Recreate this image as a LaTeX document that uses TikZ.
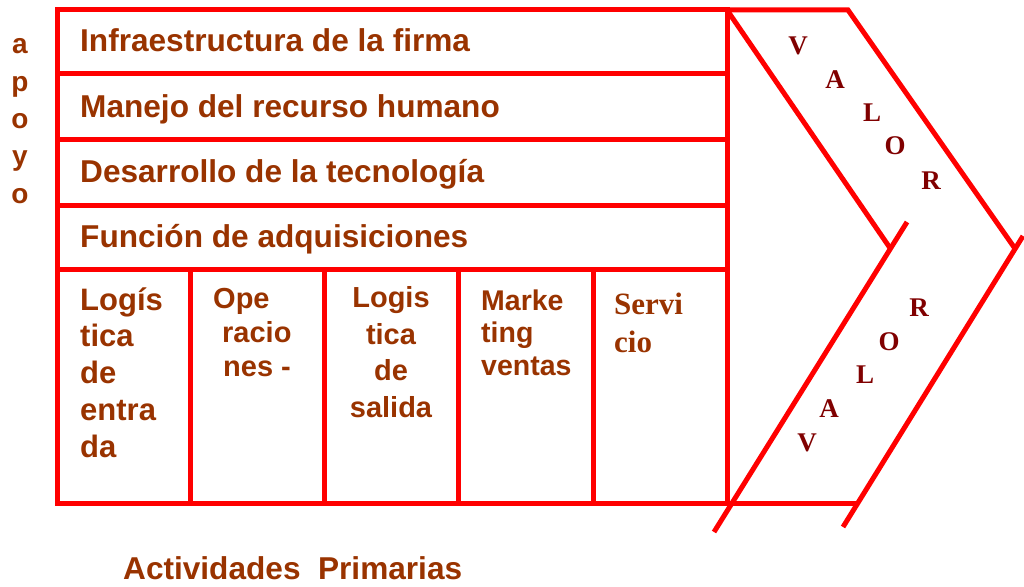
\documentclass[tikz,border=0pt]{standalone}
\usepackage{fontspec}
\setmainfont{Liberation Serif}
\setsansfont{Liberation Sans}
\definecolor{rd}{HTML}{FF0000}
\definecolor{br}{HTML}{993300}
\definecolor{mr}{HTML}{800000}
\begin{document}
\begin{tikzpicture}[x=1pt,y=-1pt,
  frame/.style={draw=rd, line width=5pt},
  suptext/.style={font=\sffamily\bfseries\fontsize{31.6}{38}\selectfont, text=br, anchor=base west, inner sep=0pt},
  primtext/.style={font=\sffamily\bfseries, text=br, inner sep=0pt, align=left, anchor=base west},
  valletter/.style={font=\rmfamily\bfseries\fontsize{27}{30}\selectfont, text=mr, inner sep=0pt}]
\useasboundingbox (0,0) rectangle (1024,586);
% main frame
\draw[frame] (57,10) rectangle (727,503);
\foreach \yy in {73,139,205,269} \draw[frame] (57,\yy) -- (727,\yy);
\foreach \xx in {190,324,458,593} \draw[frame] (\xx,269) -- (\xx,503);
% chevron
\draw[frame] (727,10) -- (848,10) -- (1016,250);
\draw[frame] (727,10) -- (890,248);
\draw[frame] (907,222) -- (714,532);
\draw[frame] (1023,236) -- (843,527);
\draw[frame] (727,503) -- (858,503);
% apoyo (base anchor = last line baseline)
\node[font=\sffamily\bfseries\fontsize{28}{37.3}\selectfont, text=br, align=center, anchor=base, inner sep=0pt] (apoyo) at (20,203) {a\\p\\o\\y\\o};
% support activities
\node[suptext] (infra) at (80,52) {Infraestructura de la firma};
\node[suptext] (rrhh) at (80,117) {Manejo del recurso humano};
\node[suptext] (tec) at (80,182) {Desarrollo de la tecnología};
\node[suptext] (adq) at (80,247) {Función de adquisiciones};
% primary activities
\node[primtext, font=\sffamily\bfseries\fontsize{31}{36.7}\selectfont] (logent) at (80,457) {Logís\\tica\\de\\entra\\da};
\node[primtext, font=\sffamily\bfseries\fontsize{29}{34}\selectfont] (oper) at (213,376) {Ope\\\hspace*{9pt}racio\\\hspace*{10pt}nes -};
\node[primtext, align=center, anchor=base, font=\sffamily\bfseries\fontsize{29}{36.5}\selectfont] (logsal) at (391,417) {Logis\\tica\\de\\salida};
\node[primtext, font=\sffamily\bfseries\fontsize{28.5}{32.5}\selectfont] (mkt) at (481,375) {Marke\\ting\\ventas};
\node[primtext, font=\rmfamily\bfseries\fontsize{31}{38}\selectfont] (serv) at (614,352) {Servi\\cio};
\node[suptext] (prim) at (123,579) {Actividades~~Primarias};
% VALOR letters
\node[valletter] (v1) at (798,46) {V};
\node[valletter] (a1) at (835,80) {A};
\node[valletter] (l1) at (872,113) {L};
\node[valletter] (o1) at (895,146) {O};
\node[valletter] (r1) at (931,181) {R};
\node[valletter] (r2) at (919,308) {R};
\node[valletter] (o2) at (889,342) {O};
\node[valletter] (l2) at (865,375) {L};
\node[valletter] (a2) at (829,409) {A};
\node[valletter] (v2) at (807,443) {V};
\end{tikzpicture}
\end{document}
